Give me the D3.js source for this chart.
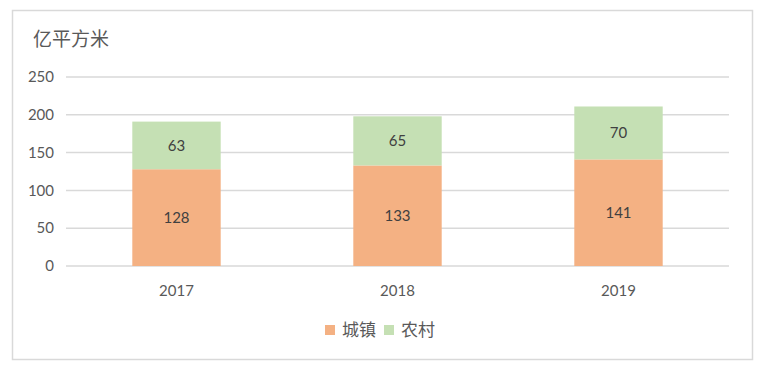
<!DOCTYPE html>
<html>
<head>
<meta charset="utf-8">
<script src="https://cdn.jsdelivr.net/npm/d3@7"></script>
<style>
  body { margin: 0; background: #fff; }
  text { font-family: "Lato", "Noto Sans CJK SC", sans-serif; fill: #595959; }
</style>
</head>
<body>
<div id="vis"></div>
<script>
const YEARS = ["2017", "2018", "2019"];
const URBAN = [128, 133, 141];
const RURAL = [63, 65, 70];
const SERIES_NAMES = ["城镇", "农村"];
const Y_TICKS = [0, 50, 100, 150, 200, 250];

const FRAME_WIDTH = 766;
const FRAME_HEIGHT = 374;
const MARGINS = {left: 66, right: 37, top: 77, bottom: 108};
const COLORS = ["#F4B183", "#C5E0B4"];

const svg = d3.select("#vis").append("svg")
  .attr("width", FRAME_WIDTH)
  .attr("height", FRAME_HEIGHT);

// outer frame
svg.append("rect")
  .attr("x", 12.5).attr("y", 10.5)
  .attr("width", 740).attr("height", 349)
  .attr("fill", "none").attr("stroke", "#d9d9d9").attr("stroke-width", 1.5);

const VIS_WIDTH = FRAME_WIDTH - MARGINS.left - MARGINS.right;
const VIS_HEIGHT = FRAME_HEIGHT - MARGINS.top - MARGINS.bottom;

const X = d3.scaleBand().domain(YEARS).range([MARGINS.left, MARGINS.left + VIS_WIDTH])
  .paddingInner(0.6).paddingOuter(0.3);
const Y = d3.scaleLinear().domain([0, 250]).range([MARGINS.top + VIS_HEIGHT, MARGINS.top]);

// gridlines
svg.append("g").selectAll("line").data(Y_TICKS).enter().append("line")
  .attr("x1", MARGINS.left).attr("x2", MARGINS.left + VIS_WIDTH)
  .attr("y1", d => Y(d)).attr("y2", d => Y(d))
  .attr("stroke", "#d9d9d9").attr("stroke-width", 1.5);

// y labels
svg.append("g").selectAll("text").data(Y_TICKS).enter().append("text")
  .attr("x", 54).attr("y", d => Y(d))
  .attr("dy", "0.35em").attr("text-anchor", "end")
  .attr("font-size", "15px")
  .text(d => d);

// stacked data
const rows = YEARS.map((y, i) => ({year: y, urban: URBAN[i], rural: RURAL[i]}));
const stack = d3.stack().keys(["urban", "rural"])(rows);

stack.forEach((layer, li) => {
  const g = svg.append("g");
  g.selectAll("rect").data(layer).enter().append("rect")
    .attr("x", d => X(d.data.year))
    .attr("width", X.bandwidth())
    .attr("y", d => Y(d[1]))
    .attr("height", d => Y(d[0]) - Y(d[1]))
    .attr("fill", COLORS[li]);
  g.selectAll("text").data(layer).enter().append("text")
    .attr("x", d => X(d.data.year) + X.bandwidth() / 2)
    .attr("y", d => Y((d[0] + d[1]) / 2))
    .attr("dy", "0.35em").attr("text-anchor", "middle")
    .attr("font-size", "15px").style("fill", "#404040")
    .text(d => d[1] - d[0]);
});

// x labels
svg.append("g").selectAll("text").data(YEARS).enter().append("text")
  .attr("x", d => X(d) + X.bandwidth() / 2)
  .attr("y", Y(0) + 25)
  .attr("dy", "0.35em").attr("text-anchor", "middle")
  .attr("font-size", "15px")
  .text(d => d);

// unit title
svg.append("text").attr("x", 33).attr("y", 39)
  .attr("dy", "0.35em")
  .attr("font-size", "19px")
  .text("亿平方米");

// legend
const legend = svg.append("g");
const LEG_X = [325, 384];
SERIES_NAMES.forEach((name, i) => {
  legend.append("rect")
    .attr("x", LEG_X[i]).attr("y", 325)
    .attr("width", 10).attr("height", 10)
    .attr("fill", COLORS[i]);
  legend.append("text")
    .attr("x", LEG_X[i] + 17).attr("y", 330)
    .attr("dy", "0.35em")
    .attr("font-size", "17px")
    .text(name);
});
</script>
</body>
</html>
